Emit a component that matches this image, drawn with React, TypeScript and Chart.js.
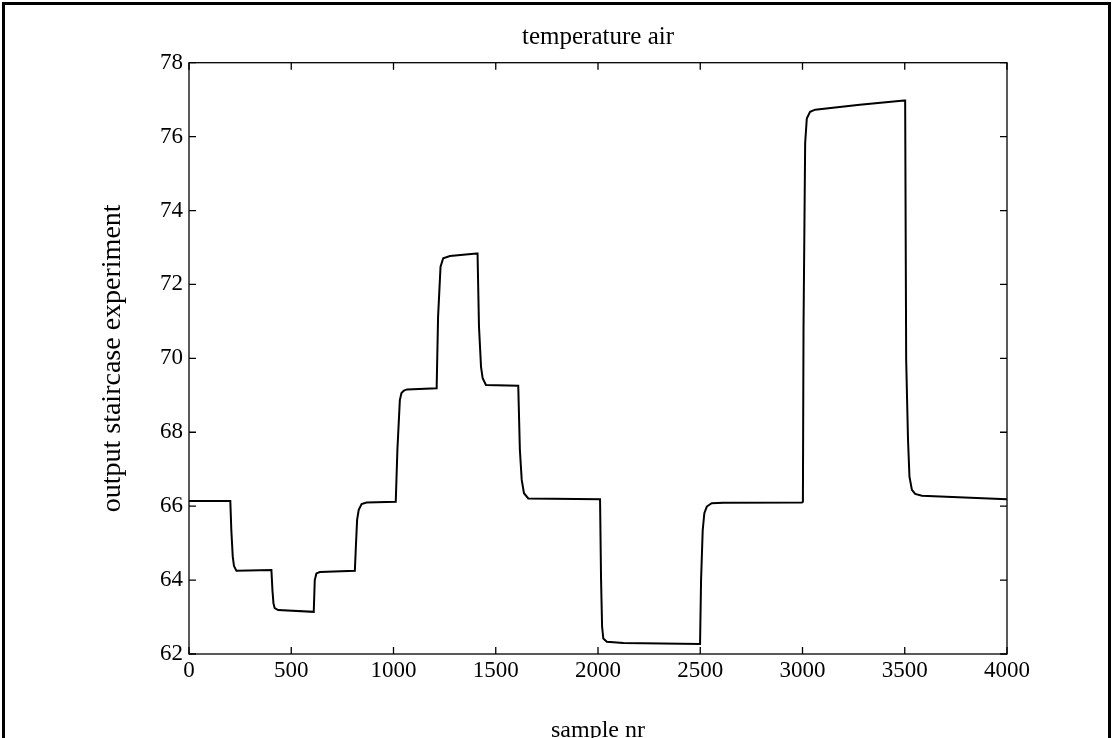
import React, { useEffect, useRef } from 'react';
import { Chart, registerables } from 'chart.js';

Chart.register(...registerables);

// Values (sample number, output).
const sampleNr = [
  0, 202, 207, 214, 220, 232, 403, 408, 413, 419, 436, 610, 615, 623, 640, 811,
  816, 822, 830, 844, 868, 1011, 1019, 1031, 1039, 1051, 1066, 1211, 1218, 1230,
  1243, 1276, 1406, 1411, 1418, 1428, 1436, 1452, 1610, 1618, 1627, 1638, 1659,
  2010, 2015, 2020, 2026, 2043, 2124, 2499, 2504, 2512, 2520, 2532, 2556, 2613,
  2997, 3002, 3005, 3013, 3021, 3037, 3062, 3280, 3497, 3502, 3507, 3516, 3523,
  3535, 3551, 3584, 4000,
];
const temperature = [
  66.14, 66.14, 65.35, 64.63, 64.38, 64.25, 64.27, 63.73, 63.37, 63.24, 63.19,
  63.14, 64.0, 64.18, 64.22, 64.25, 64.9, 65.63, 65.9, 66.06, 66.1, 66.12, 67.52,
  68.87, 69.06, 69.13, 69.16, 69.19, 71.13, 72.48, 72.71, 72.77, 72.84, 72.84,
  70.86, 69.77, 69.46, 69.28, 69.26, 67.52, 66.71, 66.35, 66.21, 66.19, 64.0,
  62.74, 62.42, 62.33, 62.3, 62.27, 64.0, 65.35, 65.81, 65.99, 66.08, 66.09,
  66.1, 66.12, 70.86, 75.82, 76.49, 76.67, 76.73, 76.86, 76.98, 76.98, 69.95,
  67.79, 66.8, 66.44, 66.33, 66.28, 66.19,
];
const xTickValues = [0, 500, 1000, 1500, 2000, 2500, 3000, 3500, 4000];
const yTickValues = [62, 64, 66, 68, 70, 72, 74, 76, 78];

const chartTitle = 'temperature air';
const xAxisTitle = 'sample nr';
const yAxisTitle = 'output staircase experiment';

const FONT = "'Liberation Serif', 'Times New Roman', serif";
const CANVAS_W = 1113;
const CANVAS_H = 743;

const framePlugin = {
  id: 'frameAndTicks',
  beforeDraw(chart: any) {
    const ctx = chart.ctx;
    ctx.save();
    ctx.fillStyle = '#ffffff';
    ctx.fillRect(0, 0, chart.width, chart.height);
    ctx.fillStyle = '#000000';
    ctx.fillRect(2, 2, 3, chart.height);
    ctx.fillRect(2, 2, chart.width - 4, 3);
    ctx.fillRect(chart.width - 5, 2, 3, chart.height);
    ctx.restore();
  },
  afterDatasetsDraw(chart: any) {
    const { ctx, chartArea: a, scales } = chart;
    ctx.save();
    ctx.strokeStyle = '#000000';
    ctx.lineWidth = 1.3;
    ctx.strokeRect(a.left, a.top, a.right - a.left, a.bottom - a.top);
    const L = 7;
    ctx.beginPath();
    scales.x.ticks.forEach((t: any) => {
      const px = scales.x.getPixelForValue(t.value);
      ctx.moveTo(px, a.bottom);
      ctx.lineTo(px, a.bottom - L);
      ctx.moveTo(px, a.top);
      ctx.lineTo(px, a.top + L);
    });
    scales.y.ticks.forEach((t: any) => {
      const py = scales.y.getPixelForValue(t.value);
      ctx.moveTo(a.left, py);
      ctx.lineTo(a.left + L, py);
      ctx.moveTo(a.right, py);
      ctx.lineTo(a.right - L, py);
    });
    ctx.stroke();
    ctx.restore();
  },
};

export default function App() {
  const canvasRef = useRef<HTMLCanvasElement | null>(null);

  useEffect(() => {
    if (!canvasRef.current) return;
    const chart = new Chart(canvasRef.current, {
      type: 'line',
      data: {
        datasets: [
          {
            label: 'output',
            data: sampleNr.map((x, i) => ({ x, y: temperature[i] })),
            borderColor: '#000000',
            borderWidth: 2,
            pointRadius: 0,
            tension: 0,
            fill: false,
          },
        ],
      },
      plugins: [framePlugin],
      options: {
        animation: false,
        responsive: false,
        devicePixelRatio: 1,
        layout: { padding: { left: 0, top: 0, right: 106, bottom: 0 } },
        plugins: {
          legend: { display: false },
          tooltip: { enabled: false },
          title: {
            display: true,
            text: chartTitle,
            color: '#000000',
            fullSize: false,
            font: { family: FONT, size: 25, weight: 'normal', lineHeight: 1.2 },
            padding: { top: 22, bottom: 10.7 },
          },
        },
        scales: {
          x: {
            type: 'linear',
            min: 0,
            max: 4000,
            afterBuildTicks: (s: any) => {
              s.ticks = xTickValues.map((v) => ({ value: v }));
            },
            afterFit: (s: any) => {
              s.height = 89;
            },
            ticks: {
              color: '#000000',
              font: { family: FONT, size: 23 },
              padding: 3,
              maxRotation: 0,
              autoSkip: false,
              callback: (v: any) => String(v),
            },
            grid: { display: false, drawTicks: false },
            border: { display: false },
            title: {
              display: true,
              text: xAxisTitle,
              color: '#000000',
              font: { family: FONT, size: 24, lineHeight: 1.0 },
              padding: { top: 0, bottom: 0 },
            },
          },
          y: {
            type: 'linear',
            min: 62,
            max: 78,
            afterBuildTicks: (s: any) => {
              s.ticks = yTickValues.map((v) => ({ value: v }));
            },
            afterFit: (s: any) => {
              s.width = 189;
            },
            ticks: {
              color: '#000000',
              font: { family: FONT, size: 23 },
              padding: 6,
              autoSkip: false,
              callback: (v: any) => String(v),
            },
            grid: { display: false, drawTicks: false },
            border: { display: false },
            title: {
              display: true,
              text: yAxisTitle,
              color: '#000000',
              font: { family: FONT, size: 28, lineHeight: 1.2 },
              padding: { top: 96, bottom: 0 },
            },
          },
        },
      },
    });
    return () => chart.destroy();
  }, []);

  return (
    <div
      style={{
        position: 'fixed',
        left: 0,
        top: 0,
        width: 1113,
        height: 738,
        overflow: 'hidden',
        background: '#fff',
      }}
    >
      <canvas ref={canvasRef} width={CANVAS_W} height={CANVAS_H} style={{ display: 'block' }} />
    </div>
  );
}
